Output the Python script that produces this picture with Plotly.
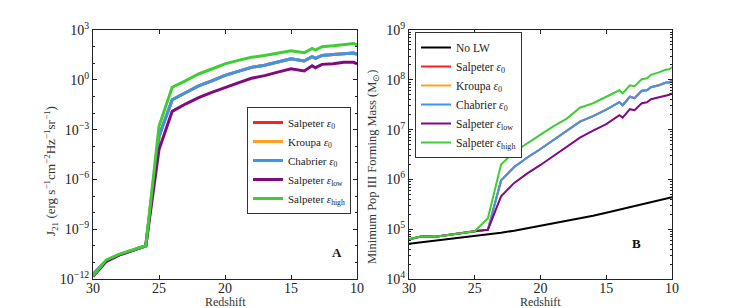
import plotly.graph_objects as go

# ---------------- Panel A data: log10 J21 vs redshift ----------------
z_a = [30, 29, 28, 27, 26, 25, 24, 23, 22, 21, 20, 19, 18, 17, 16, 15, 14,
       13.4, 13.15, 12.65, 11.8, 11, 10.25, 10]
logJ_high = [-11.8, -10.85, -10.5, -10.25, -10.0, -2.8, -0.45, -0.06, 0.35, 0.65,
             0.96, 1.17, 1.36, 1.46, 1.6, 1.75, 1.63, 1.89, 1.79, 1.99, 2.05, 2.14,
             2.18, 2.10]
logJ_chab = [-11.7, -10.9, -10.55, -10.27, -10.0, -3.4, -1.2, -0.78, -0.37, -0.06,
             0.27, 0.51, 0.75, 0.88, 1.07, 1.27, 1.13, 1.39, 1.29, 1.47, 1.53, 1.59,
             1.61, 1.53]
logJ_salp = [-11.72, -10.9, -10.55, -10.27, -10.0, -3.4, -1.2, -0.78, -0.37, -0.06,
             0.27, 0.51, 0.75, 0.88, 1.07, 1.27, 1.13, 1.39, 1.29, 1.47, 1.53, 1.59,
             1.61, 1.53]
logJ_krou = [-11.72, -10.9, -10.55, -10.27, -10.0, -3.4, -1.2, -0.78, -0.37, -0.06,
             0.27, 0.51, 0.75, 0.88, 1.07, 1.27, 1.13, 1.39, 1.29, 1.47, 1.53, 1.59,
             1.61, 1.53]
logJ_low = [-11.85, -10.95, -10.55, -10.27, -10.0, -4.2, -1.9, -1.46, -1.07, -0.76,
            -0.45, -0.18, 0.09, 0.25, 0.46, 0.67, 0.53, 0.85, 0.73, 0.93, 0.97, 1.05,
            1.05, 0.95]

# ---------------- Panel B data: log10 minimum Pop III mass ----------------
z_nolw = [30, 29, 28, 27, 26, 25, 24, 23, 22, 21, 20, 19, 18, 17, 16, 15, 14, 13, 12, 11, 10]
logM_nolw = [4.71, 4.74, 4.77, 4.80, 4.83, 4.86, 4.89, 4.93, 4.97, 5.02, 5.07, 5.11,
             5.16, 5.21, 5.27, 5.33, 5.39, 5.46, 5.52, 5.58, 5.64]
z_b = [30, 29, 28, 27, 26, 25, 24, 23, 22, 21, 20, 19, 18, 17, 16, 15, 14, 13.75,
       13.2, 12.85, 12.3, 11.9, 11.6, 11, 10.5, 10.2, 10]
logM_high = [4.80, 4.86, 4.85, 4.89, 4.92, 4.96, 5.22, 6.30, 6.55, 6.73, 6.90, 7.07,
             7.22, 7.44, 7.53, 7.66, 7.79, 7.73, 7.89, 7.87, 8.01, 8.03, 8.10, 8.15,
             8.20, 8.21, 8.25]
logM_chab = [4.80, 4.86, 4.85, 4.89, 4.92, 4.96, 4.99, 5.98, 6.25, 6.44, 6.61, 6.79,
             6.98, 7.16, 7.27, 7.40, 7.55, 7.49, 7.66, 7.63, 7.78, 7.79, 7.85, 7.89,
             7.94, 7.95, 7.99]
logM_salp = list(logM_chab)
logM_krou = list(logM_chab)
logM_low = [4.80, 4.86, 4.85, 4.89, 4.92, 4.96, 4.99, 5.66, 5.93, 6.12, 6.29, 6.47,
            6.65, 6.84, 6.98, 7.11, 7.29, 7.24, 7.41, 7.39, 7.53, 7.55, 7.61, 7.65,
            7.69, 7.70, 7.73]

# tick labels
x_ticks = [30, 25, 20, 15, 10]
yA_exps = [-12, -9, -6, -3, 0, 3]
yB_exps = [4, 5, 6, 7, 8, 9]

names = ["Salpeter <i>ε</i><sub>0</sub>", "Kroupa <i>ε</i><sub>0</sub>",
         "Chabrier <i>ε</i><sub>0</sub>", "Salpeter <i>ε</i><sub>low</sub>",
         "Salpeter <i>ε</i><sub>high</sub>"]
colors = ["#ff2020", "#ffa020", "#3a95ef", "#800a80", "#40cc35"]

FONT = "Liberation Serif"
W, H = 747, 308


def pw(px):
    return px / W


def ph(py):
    return 1 - py / H


def exp_label(e):
    s = str(e).replace("-", "−")
    return f"10<sup>{s}</sup>"


fig = go.Figure()

left_series = [logJ_salp, logJ_krou, logJ_chab, logJ_low, logJ_high]
for nm, col, ser in zip(names, colors, left_series):
    fig.add_trace(go.Scatter(x=z_a, y=[10 ** v for v in ser], mode="lines", name=nm,
                             line=dict(color=col, width=3), xaxis="x", yaxis="y",
                             legend="legend"))

fig.add_trace(go.Scatter(x=z_nolw, y=[10 ** v for v in logM_nolw], mode="lines",
                         name="No LW", line=dict(color="black", width=2),
                         xaxis="x2", yaxis="y2", legend="legend2"))
right_series = [logM_salp, logM_krou, logM_chab, logM_low, logM_high]
for nm, col, ser in zip(names, colors, right_series):
    fig.add_trace(go.Scatter(x=z_b, y=[10 ** v for v in ser], mode="lines", name=nm,
                             line=dict(color=col, width=2), xaxis="x2", yaxis="y2",
                             legend="legend2"))

axis_common = dict(showline=True, linecolor="#222", linewidth=1, mirror="allticks",
                   ticks="inside", ticklen=4, tickcolor="#222", showgrid=False,
                   zeroline=False, automargin=False,
                   tickfont=dict(family=FONT, size=14, color="#222"))

yd = [ph(279), ph(30)]


def text_ann(text, x, y, size, angle=0, color="#333"):
    return dict(text=text, x=pw(x), y=ph(y), xref="paper", yref="paper",
                xanchor="center", yanchor="middle", textangle=angle,
                showarrow=False, font=dict(family=FONT, size=size, color=color))


fig.update_layout(
    width=W, height=H,
    margin=dict(l=0, r=0, t=0, b=0),
    paper_bgcolor="white", plot_bgcolor="white",
    font=dict(family=FONT, size=12, color="#222"),
    xaxis=dict(domain=[pw(93), pw(357)], range=[30, 10], tickvals=x_ticks,
               anchor="y", ticklabelstandoff=-4, **axis_common),
    yaxis=dict(domain=yd, type="log", range=[-12, 3],
               tickvals=[10 ** e for e in yA_exps],
               ticktext=[exp_label(e) for e in yA_exps],
               minor=dict(ticks="inside", ticklen=2, dtick=1, tickcolor="#222"),
               anchor="x", **axis_common),
    xaxis2=dict(domain=[pw(409), pw(672)], range=[30, 10], tickvals=x_ticks,
                anchor="y2", ticklabelstandoff=-4, **axis_common),
    yaxis2=dict(domain=yd, type="log", range=[4, 9],
                tickvals=[10 ** e for e in yB_exps],
                ticktext=[exp_label(e) for e in yB_exps],
                minor=dict(ticks="inside", ticklen=2, dtick="D1", tickcolor="#222"),
                anchor="x2", **axis_common),
    legend=dict(x=pw(247), y=ph(107), xanchor="left", yanchor="top",
                bordercolor="#333", borderwidth=1, bgcolor="white",
                font=dict(family=FONT, size=11), tracegroupgap=0, itemwidth=30),
    legend2=dict(x=pw(415), y=ph(32), xanchor="left", yanchor="top",
                 bordercolor="#333", borderwidth=1, bgcolor="white",
                 font=dict(family=FONT, size=11.5), tracegroupgap=0, itemwidth=30),
    annotations=[
        dict(text="<b>A</b>", x=11.5, y=-10.4, xref="x", yref="y", showarrow=False,
             xanchor="center", yanchor="middle",
             font=dict(family=FONT, size=13, color="#111")),
        dict(text="<b>B</b>", x=12.7, y=4.71, xref="x2", yref="y2", showarrow=False,
             xanchor="center", yanchor="middle",
             font=dict(family=FONT, size=13, color="#111")),
        text_ann("Redshift", 225, 302, 12),
        text_ann("Redshift", 540.5, 302, 12),
        text_ann("J<sub>21</sub> (erg s<sup>−1</sup>cm<sup>−2</sup>Hz<sup>−1</sup>sr<sup>−1</sup>)",
                 51, 171, 13, angle=-90),
        text_ann("Minimum Pop III Forming Mass (M<sub>⊙</sub>)", 373, 167, 12.5, angle=-90),
    ],
)

fig.write_html("out.html", config={"displayModeBar": False},
               post_script="document.body.style.margin='0';document.body.style.padding='0';")
